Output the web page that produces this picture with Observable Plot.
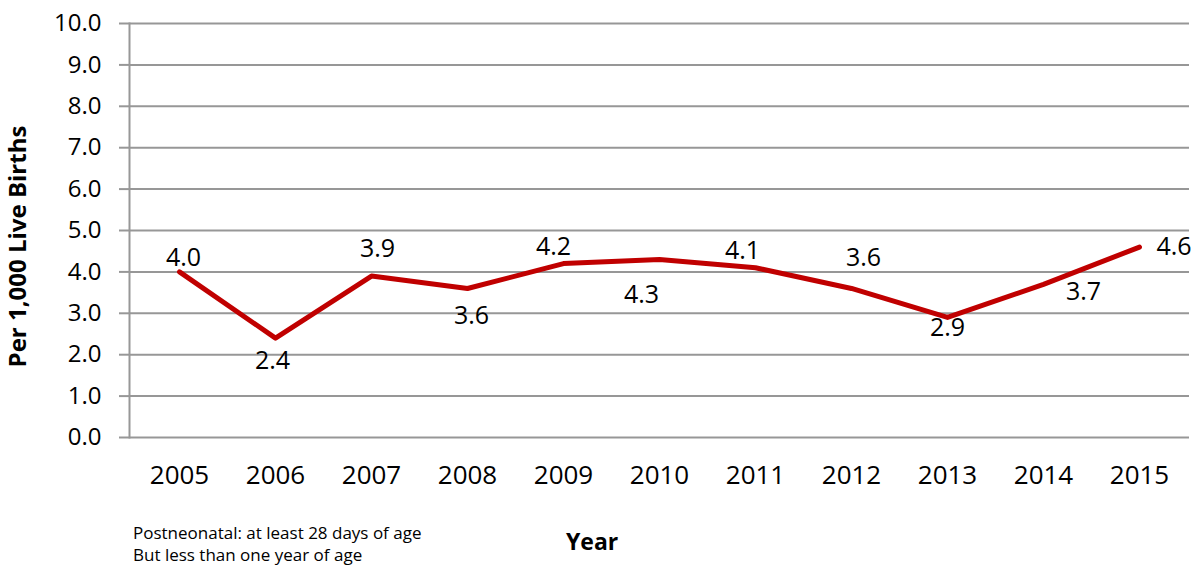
<!DOCTYPE html>
<html>
<head>
<meta charset="utf-8">
<script src="https://cdn.jsdelivr.net/npm/d3@7"></script>
<script src="https://cdn.jsdelivr.net/npm/@observablehq/plot@0.6"></script>
<style>
  html, body { margin: 0; padding: 0; background: #fff; }
  body { width: 1197px; height: 567px; overflow: hidden; font-family: "Open Sans", sans-serif; }
  #below { position: relative; width: 1197px; height: 57px; }
  #note { position: absolute; left: 133px; top: 12px; font-size: 17px; line-height: 22px; color: #000; }
  #xtitle { position: absolute; left: 566px; top: 15px; font-size: 23px; font-weight: bold; color: #000; }
</style>
</head>
<body>
<div id="chart"></div>
<div id="below">
  <div id="note">Postneonatal: at least 28 days of age<br>But less than one year of age</div>
  <div id="xtitle">Year</div>
</div>
<script>
const years = ["2005","2006","2007","2008","2009","2010","2011","2012","2013","2014","2015"];
const rates = [4.0, 2.4, 3.9, 3.6, 4.2, 4.3, 4.1, 3.6, 2.9, 3.7, 4.6];
const yTicks = [0,1,2,3,4,5,6,7,8,9,10];
const yTitle = "Per 1,000 Live Births";

const data = years.map((year, i) => ({year, rate: rates[i]}));

// manual label placement (dx, dy, anchor) as in the original chart
const labelPlacement = [
  [4, -14, "middle"], [-3, 23, "middle"], [6, -27, "middle"], [4, 28, "middle"],
  [-10, -17, "middle"], [-18, 36, "middle"], [-13, -17, "middle"], [12, -30, "middle"],
  [0, 11, "middle"], [40, 8, "middle"], [17, 0, "start"]
];

const labelMarks = data.map((d, i) => Plot.text([d], {
  x: "year", y: "rate", text: v => v.rate.toFixed(1),
  dx: labelPlacement[i][0], dy: labelPlacement[i][1], textAnchor: labelPlacement[i][2],
  fontSize: 25, fill: "#000"
}));

const chart = Plot.plot({
  width: 1197,
  height: 510,
  marginLeft: 129,
  marginRight: 8,
  marginTop: 23,
  marginBottom: 73,
  style: { fontFamily: "Open Sans, sans-serif", color: "#000", background: "#fff" },
  x: { type: "point", domain: years, padding: 0.5 },
  y: { domain: [0, 10] },
  marks: [
    Plot.ruleY(yTicks, { stroke: "#979797", strokeWidth: 2 }),
    Plot.frame({ anchor: "left", stroke: "#979797", strokeWidth: 2 }),
    Plot.axisY(yTicks, { tickSize: 10, tickPadding: 18, stroke: "#979797", strokeWidth: 2, fontSize: 24, tickFormat: d => d.toFixed(1), label: null }),
    Plot.axisX({ tickSize: 0, tickPadding: 28, fontSize: 26, label: null }),
    Plot.text([yTitle], { frameAnchor: "left", textAnchor: "middle", rotate: -90, dx: -111, dy: 16, fontSize: 24, fontWeight: "bold", fill: "#000" }),
    Plot.line(data, { x: "year", y: "rate", stroke: "#C00000", strokeWidth: 5, strokeLinejoin: "round", strokeLinecap: "round" }),
    ...labelMarks
  ]
});
document.getElementById("chart").appendChild(chart);
</script>
</body>
</html>
